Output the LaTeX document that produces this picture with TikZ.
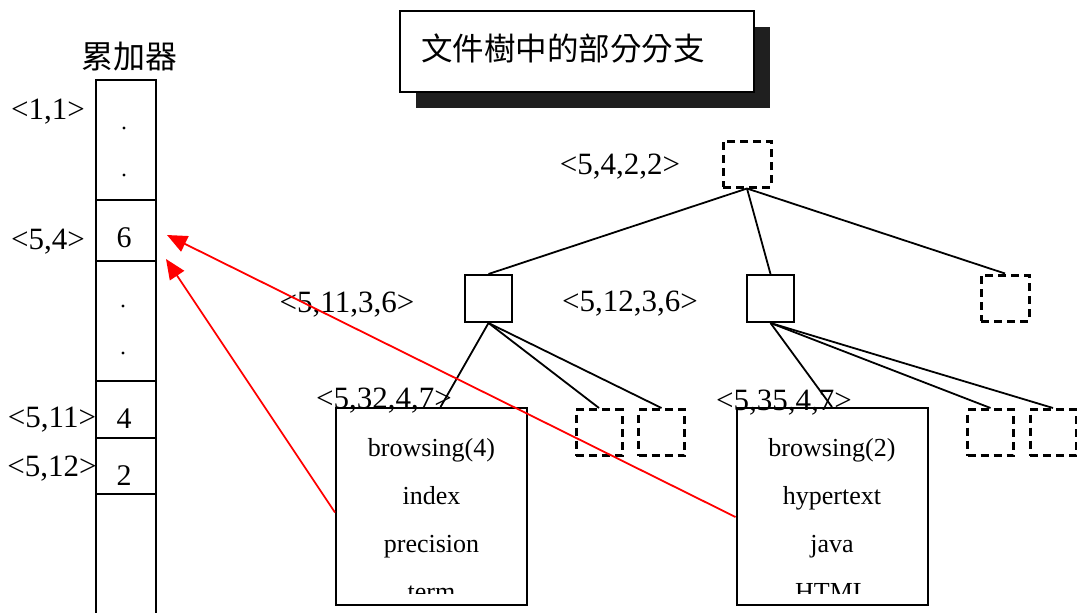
\documentclass[tikz,border=0pt]{standalone}
\usepackage{fontspec}
\setmainfont{Liberation Serif}
\newfontfamily\cjk{Noto Sans CJK TC}
\usetikzlibrary{arrows.meta,calc}
\tikzset{
  lbl/.style={font=\fontsize{31}{34}\selectfont, inner sep=0pt},
  word/.style={font=\fontsize{26}{30}\selectfont, inner sep=0pt, anchor=base},
  num/.style={font=\fontsize{30}{34}\selectfont, inner sep=0pt},
  cell/.style={draw, line width=2pt, minimum width=60pt, inner sep=0pt},
  solidbox/.style={draw, line width=2pt, minimum width=47pt, minimum height=47pt, inner sep=0pt},
  dashbox/.style={draw, line width=3pt, dash pattern=on 8pt off 5pt, minimum width=46pt, minimum height=46pt, inner sep=0pt},
  leafbox/.style={draw, line width=2pt, minimum width=191pt, minimum height=197pt, inner sep=0pt},
  edge/.style={line width=1.8pt},
  hit/.style={red, line width=1.8pt, -{Triangle[length=20pt,width=17pt]}},
  dot/.style={circle, fill, inner sep=0pt, minimum size=3.2pt},
}
\begin{document}
\begin{tikzpicture}[x=1pt,y=-1pt]
\useasboundingbox (0,0) rectangle (1077,613);
\clip (0,0) rectangle (1077,613);

% accumulator column
\node[font=\cjk\fontsize{32}{34}\selectfont] (acctitle) at (129,57) {累加器};
\node[cell, minimum height=120pt] (acc1) at (126,140) {};
\node[cell, minimum height=61pt]  (acc2) at (126,230.5) {};
\node[cell, minimum height=120pt] (acc3) at (126,321) {};
\node[cell, minimum height=57pt]  (acc4) at (126,409.5) {};
\node[cell, minimum height=56pt]  (acc5) at (126,466) {};
\node[cell, minimum height=140pt] (acc6) at (126,564) {};
\node[num] (v6) at (124,238) {6};
\node[num] (v4) at (124,419) {4};
\node[num] (v2) at (124,476) {2};
\node[dot] (d1a) at (124,128) {};
\node[dot] (d1b) at (124,175) {};
\node[dot] (d3a) at (123,306) {};
\node[dot] (d3b) at (123,353) {};

\node[lbl] (k11)  at (48,111.5) {<1,1>};
\node[lbl] (k54)  at (48,241.5) {<5,4>};
\node[lbl] (k511) at (52,419.5) {<5,11>};
\node[lbl] (k512) at (52,468.5) {<5,12>};

% title with drop shadow
\fill[black!88] (416,27) rectangle (770,108);
\node[draw, fill=white, line width=1.5pt, minimum width=354pt, minimum height=81pt, inner sep=0pt] (titlebox) at (577,51.5) {};
\node[font=\cjk\fontsize{31.5}{36}\selectfont, anchor=west, inner sep=0pt] (title) at (421,48) {文件樹中的部分分支};

% tree nodes
\node[dashbox, minimum width=48pt] (root) at (747,164) {};
\node[solidbox] (b1) at (488.5,298.5) {};
\node[solidbox] (b2) at (770.5,298.5) {};
\node[dashbox, minimum width=48pt] (e1) at (1005,298) {};
\node[dashbox] (e2) at (599,432.5) {};
\node[dashbox] (e3) at (661.5,432.5) {};
\node[dashbox] (e4) at (990.5,432.5) {};
\node[dashbox] (e5) at (1053,432.5) {};
\node[leafbox] (leaf1) at (431.5,506.5) {};
\node[leafbox] (leaf2) at (832,506.5) {};

% node labels
\node[lbl] (l5422)  at (620,166.5) {<5,4,2,2>};
\node[lbl] (l51136) at (347,304.5) {<5,11,3,6>};
\node[lbl] (l51236) at (630,303.5) {<5,12,3,6>};
\node[lbl] (l53247) at (384,401) {<5,32,4,7>};
\node[lbl] (l53547) at (784,403) {<5,35,4,7>};

% tree edges
\draw[edge] (root.south) -- (b1.north);
\draw[edge] (root.south) -- (b2.north);
\draw[edge] (root.south) -- (e1.north);
\draw[edge] (b1.south) -- ([xshift=9pt]leaf1.north);
\draw[edge] (b1.south) -- (e2.north);
\draw[edge] (b1.south) -- (e3.north);
\draw[edge] (b2.south) -- (leaf2.north);
\draw[edge] (b2.south) -- (e4.north);
\draw[edge] (b2.south) -- (e5.north);

% leaf contents, cut off at the bottom
\begin{scope}
  \clip (336,408) rectangle (527,593);
  \node[word] (w11) at (431.5,456) {browsing(4)};
  \node[word] (w12) at (431.5,504) {index};
  \node[word] (w13) at (431.5,552) {precision};
  \node[word] (w14) at (431.5,600) {term};
\end{scope}
\begin{scope}
  \clip (737,408) rectangle (927,593);
  \node[word] (w21) at (832,456) {browsing(2)};
  \node[word] (w22) at (832,504) {hypertext};
  \node[word] (w23) at (832,552) {java};
  \node[word] (w24) at (832,600) {HTML};
\end{scope}

% accumulator hits
\coordinate (tip1) at (167,235);
\coordinate (tip2) at (166,259);
\draw[hit] ([yshift=-10.5pt]leaf2.west) -- (tip1);
\draw[hit] ([yshift=-6pt]leaf1.west) -- (tip2);
\end{tikzpicture}
\end{document}
